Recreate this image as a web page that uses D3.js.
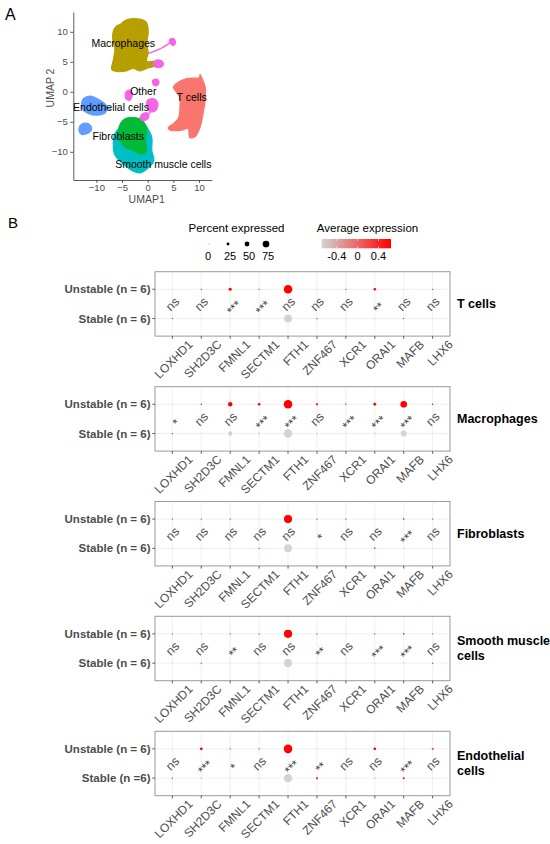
<!DOCTYPE html>
<html><head><meta charset="utf-8">
<script src="https://cdn.jsdelivr.net/npm/d3@7"></script>
<style>
html,body{margin:0;padding:0;background:#fff;}
svg{display:block;font-family:"Liberation Sans",Arial,Helvetica,sans-serif;}
</style></head>
<body>
<svg id="chart" width="550" height="844"></svg>
<script>
// ---------------- DATA ----------------
// Panel A: UMAP cluster outlines (UMAP units)
const umapXTicks = [-10, -5, 0, 5, 10];
const umapYTicks = [-10, -5, 0, 5, 10];
const clusterNames = ["T cells", "Macrophages", "Fibroblasts", "Smooth muscle cells", "Endothelial cells", "Other"];
const clusterColors = ["#F8766D", "#B79F00", "#00BA38", "#00BFC4", "#619CFF", "#F564E3"];
const macrophageShape = [[-5.4,11.2],[-4.1,12.0],[-1.5,12.1],[-0.2,11.5],[0.1,9.8],[-0.2,8.1],[0.1,6.5],[-0.2,5.1],[1.4,5.0],[1.2,4.3],[-0.2,3.9],[-1.5,3.5],[-2.8,3.9],[-4.1,3.5],[-6.0,3.4],[-7.0,3.7],[-6.7,5.3],[-6.4,7.0],[-6.8,8.7],[-6.7,10.1],[-6.0,11.0]];
const tcellShape = [[5.6,1.4],[7.6,2.2],[10.1,2.4],[10.2,2.9],[10.6,2.2],[11.2,0.8],[11.2,-1.4],[10.8,-3.6],[10.2,-5.9],[9.2,-7.5],[8.2,-7.6],[7.9,-6.1],[6.6,-6.4],[4.4,-6.4],[4.0,-6.0],[5.0,-5.3],[6.0,-4.4],[6.3,-2.5],[6.2,-0.8],[5.3,0.3],[5.0,0.8]];
const endoShapeA = [[-12.5,-1.1],[-11.2,-0.7],[-9.3,-1.4],[-8.0,-2.4],[-8.3,-3.5],[-9.9,-3.9],[-11.6,-3.6],[-12.7,-2.9],[-12.9,-1.9]];
const endoShapeB = [[-12.9,-5.4],[-11.6,-5.3],[-10.9,-6.1],[-11.4,-6.8],[-12.9,-7.1],[-13.4,-6.4]];
const smoothShape = [[-4.1,-4.5],[-1.5,-4.7],[-0.2,-5.9],[0.8,-7.6],[0.8,-9.8],[1.2,-11.5],[-0.2,-12.9],[-1.6,-13.5],[-3.1,-13.1],[-4.7,-12.1],[-6.4,-10.5],[-6.7,-8.4],[-6.4,-7.0],[-5.3,-5.8]];
const fibroShape = [[-4.4,-4.5],[-2.8,-4.3],[-1.2,-4.7],[-0.2,-6.1],[-0.5,-8.1],[-0.2,-9.8],[-1.2,-10.4],[-2.8,-9.8],[-4.4,-9.2],[-5.4,-8.1],[-5.7,-6.7],[-5.3,-5.3]];
const otherShapes = [
  [[4.2,8.6],[5.0,8.9],[5.4,8.4],[5.2,7.8],[4.6,7.9]],
  [[1.3,5.1],[2.3,5.3],[3.0,4.9],[2.8,4.2],[1.6,4.1],[1.1,4.5]],
  [[1.0,1.9],[1.9,2.1],[2.2,1.5],[1.7,1.0],[1.1,1.2]],
  [[-4.3,-0.1],[-3.4,0.3],[-3.0,-0.5],[-3.5,-1.4],[-4.2,-1.2]],
  [[0.0,-1.4],[1.3,-1.2],[2.0,-2.0],[1.6,-3.1],[0.6,-3.3],[-0.1,-2.5]],
  [[-1.2,-3.8],[-0.1,-3.5],[0.2,-4.3],[-0.8,-4.8],[-1.4,-4.5]]
];
const otherTails = [[[0.1,6.4],[2.5,7.2],[4.4,8.2]], [[0.8,-3.0],[0.2,-3.7]], [[-8.1,-2.6],[-7.0,-3.0]]];
const clusterLabels = [
  {text:"Macrophages", x:-4.76, y:8.07},
  {text:"Other", x:-0.86, y:0.0},
  {text:"T cells", x:8.58, y:-1.0},
  {text:"Endothelial cells", x:-7.15, y:-2.67},
  {text:"Fibroblasts", x:-5.73, y:-7.38},
  {text:"Smooth muscle cells", x:3.04, y:-12.05}
];

// Panel B: dot plots
const genes = ["LOXHD1","SH2D3C","FMNL1","SECTM1","FTH1","ZNF467","XCR1","ORAI1","MAFB","LHX6"];
const groups = ["Unstable","Stable"];
const cellTypes = ["T cells","Macrophages","Fibroblasts","Smooth muscle cells","Endothelial cells"];
const rowLabelsUnstable = ["Unstable (n = 6)","Unstable (n = 6)","Unstable (n = 6)","Unstable (n = 6)","Unstable (n = 6)"];
const rowLabelsStable = ["Stable (n = 6)","Stable (n = 6)","Stable (n = 6)","Stable (n = 6)","Stable (n =6)"];
const facetLabels = [["T cells"],["Macrophages"],["Fibroblasts"],["Smooth muscle","cells"],["Endothelial","cells"]];

const pctUnstable = [
  [1, 3, 28, 3, 99, 1, 3, 22, 2, 3],
  [1, 4, 45, 22, 100, 16, 4, 24, 75, 4],
  [3, 3, 3, 1, 94, 3, 3, 1, 8, 3],
  [3, 3, 3, 3, 95, 3, 2, 4, 8, 3],
  [1, 24, 3, 3, 100, 4, 3, 22, 4, 10]
];
const pctStable = [
  [3, 1, 8, 1, 90, 3, 1, 8, 3, 1],
  [4, 1, 44, 12, 97, 10, 2, 12, 66, 1],
  [1, 1, 1, 4, 92, 1, 1, 6, 5, 1],
  [2, 4, 1, 1, 93, 1, 2, 1, 4, 4],
  [3, 12, 1, 1, 97, 13, 3, 12, 12, 3]
];
const avgUnstable = [
  [-0.7, 0.7, 0.7, 0.7, 0.7, -0.7, 0.7, 0.7, -0.7, 0.7],
  [-0.7, 0.7, 0.7, 0.7, 0.7, 0.7, 0.7, 0.7, 0.7, 0.7],
  [0.7, 0.7, 0.7, -0.7, 0.7, 0.7, 0.7, -0.7, 0.7, 0.7],
  [0.7, -0.2, 0.7, 0.7, 0.7, 0.7, -0.7, 0.7, 0.7, 0.3],
  [-0.7, 0.7, 0.7, 0.7, 0.7, -0.7, -0.7, 0.7, -0.7, 0.7]
];
const avgStable = [
  [0.7, -0.7, -0.7, -0.7, -0.7, 0.7, -0.7, -0.7, 0.7, -0.7],
  [0.7, -0.7, -0.7, -0.7, -0.7, -0.7, -0.7, -0.7, -0.7, -0.7],
  [-0.7, -0.7, -0.7, 0.7, -0.7, -0.7, -0.7, 0.7, -0.7, -0.7],
  [-0.7, 0.5, -0.7, -0.7, -0.7, -0.7, -0.7, -0.7, -0.7, 0.5],
  [0.7, -0.7, -0.7, -0.7, -0.7, 0.7, -0.7, -0.7, 0.7, -0.7]
];
const signif = [
  ["ns","ns","***","***","ns","ns","ns","**","ns","ns"],
  ["*","ns","ns","***","***","ns","***","***","***","ns"],
  ["ns","ns","ns","ns","ns","*","ns","ns","***","ns"],
  ["ns","ns","**","ns","ns","**","ns","***","***","ns"],
  ["ns","***","*","ns","***","**","ns","ns","***","ns"]
];
const sizeLegendValues = [0, 25, 50, 75];
const colorLegendTicks = [-0.4, 0, 0.4];

// ---------------- DRAW ----------------
const svg = d3.select("#chart");
const FONT_GRAY = "#4d4d4d";

// ===== Panel A =====
svg.append("text").attr("x", 5).attr("y", 19.5).attr("font-size", 16).attr("fill", "#000").text("A");

const ux = d3.scaleLinear().domain([-14.5, 12.5]).range([73.3, 211.8]);
const uy = d3.scaleLinear().domain([-14.7, 13.3]).range([180, 12]);
const gA = svg.append("g");
const blob = d3.line().x(d => ux(d[0])).y(d => uy(d[1])).curve(d3.curveCatmullRomClosed.alpha(0.5));
const tail = d3.line().x(d => ux(d[0])).y(d => uy(d[1])).curve(d3.curveCatmullRom);

function drawBlob(shape, color) {
  gA.append("path").attr("d", blob(shape)).attr("fill", color).attr("stroke", color).attr("stroke-width", 1.2).attr("stroke-linejoin", "round");
}
otherTails.forEach((t, i) => gA.append("path").attr("d", tail(t)).attr("fill", "none")
  .attr("stroke", i === 2 ? clusterColors[4] : clusterColors[5]).attr("stroke-width", 1.4));
drawBlob(macrophageShape, clusterColors[1]);
drawBlob(tcellShape, clusterColors[0]);
drawBlob(endoShapeA, clusterColors[4]);
drawBlob(endoShapeB, clusterColors[4]);
drawBlob(smoothShape, clusterColors[3]);
drawBlob(fibroShape, clusterColors[2]);
otherShapes.forEach(s => drawBlob(s, clusterColors[5]));

clusterLabels.forEach(l => {
  gA.append("text").attr("x", ux(l.x)).attr("y", uy(l.y)).attr("dy", "0.35em")
    .attr("text-anchor", "middle").attr("font-size", 10.5).attr("fill", "#000").text(l.text);
});

// axes
const axA = svg.append("g").attr("transform", `translate(0,180)`)
  .call(d3.axisBottom(ux).tickValues(umapXTicks).tickSize(3).tickPadding(1).tickSizeOuter(0));
const ayA = svg.append("g").attr("transform", `translate(73.3,0)`)
  .call(d3.axisLeft(uy).tickValues(umapYTicks).tickSize(3).tickPadding(2.5).tickSizeOuter(0));
[axA, ayA].forEach(a => {
  a.select(".domain").attr("stroke", "#333").attr("stroke-width", 0.8);
  a.selectAll(".tick line").attr("stroke", "#333").attr("stroke-width", 0.8);
  a.selectAll(".tick text").attr("font-size", 9.5).attr("fill", FONT_GRAY).attr("font-family", "Liberation Sans, Arial, sans-serif");
});
svg.append("text").attr("x", 146.7).attr("y", 203).attr("text-anchor", "middle").attr("font-size", 10.5).attr("fill", FONT_GRAY).text("UMAP1");
svg.append("text").attr("transform", "translate(54,88) rotate(-90)").attr("text-anchor", "middle").attr("font-size", 10.5).attr("fill", FONT_GRAY).text("UMAP 2");

// ===== Panel B =====
svg.append("text").attr("x", 8).attr("y", 227.5).attr("font-size", 15).attr("fill", "#000").text("B");

const rScale = d3.scaleLinear().domain([0, 100]).range([0.5, 4.3]);
const cScale = d3.scaleLinear().domain([-0.69, 0.64]).range(["#d3d3d3", "#ff0000"]).clamp(true);

// legend: percent expressed
svg.append("text").attr("x", 236.5).attr("y", 232).attr("text-anchor", "middle").attr("font-size", 11.5).attr("fill", "#000").text("Percent expressed");
const legXs = d3.scalePoint().domain(sizeLegendValues).range([209, 266]);
sizeLegendValues.forEach(v => {
  svg.append("circle").attr("cx", legXs(v)).attr("cy", 244).attr("r", rScale(v)).attr("fill", v === 0 ? "#888" : "#000");
  svg.append("text").attr("x", legXs(v) + (v === 0 ? -1 : 2)).attr("y", 260).attr("text-anchor", "middle").attr("font-size", 11).attr("fill", "#000").text(v);
});

// legend: average expression colorbar
svg.append("text").attr("x", 367.5).attr("y", 232).attr("text-anchor", "middle").attr("font-size", 11.5).attr("fill", "#000").text("Average expression");
const barScale = d3.scaleLinear().domain([-0.69, 0.64]).range([321.7, 391]);
const defs = svg.append("defs");
const grad = defs.append("linearGradient").attr("id", "avgGrad").attr("x1", "0%").attr("x2", "100%");
grad.append("stop").attr("offset", "0%").attr("stop-color", cScale(-0.69));
grad.append("stop").attr("offset", "100%").attr("stop-color", cScale(0.64));
svg.append("rect").attr("x", barScale.range()[0]).attr("y", 239).attr("width", barScale.range()[1] - barScale.range()[0]).attr("height", 9.3).attr("fill", "url(#avgGrad)");
colorLegendTicks.forEach(t => {
  svg.append("line").attr("x1", barScale(t)).attr("x2", barScale(t)).attr("y1", 239).attr("y2", 241).attr("stroke", "#fff").attr("stroke-width", 0.6);
  svg.append("line").attr("x1", barScale(t)).attr("x2", barScale(t)).attr("y1", 246.3).attr("y2", 248.3).attr("stroke", "#fff").attr("stroke-width", 0.6);
  svg.append("text").attr("x", barScale(t)).attr("y", 260).attr("text-anchor", "middle").attr("font-size", 11).attr("fill", "#000").text(t === 0 ? "0" : t.toFixed(1));
});

// facets
const panelTops = [271.7, 386.7, 501.5, 616.3, 731.3];
const panelH = 64.4, panelL = 155, panelR = 450;

cellTypes.forEach((ct, p) => {
  const top = panelTops[p], bottom = top + panelH;
  const x = d3.scalePoint().domain(genes).range([panelL, panelR]).padding(0.6);
  const y = d3.scalePoint().domain(groups).range([top, bottom]).padding(0.6);
  const g = svg.append("g");

  // grid
  genes.forEach(gn => g.append("line").attr("x1", x(gn)).attr("x2", x(gn)).attr("y1", top).attr("y2", bottom).attr("stroke", "#e6e6e6").attr("stroke-width", 0.6));
  groups.forEach(gr => g.append("line").attr("x1", panelL).attr("x2", panelR).attr("y1", y(gr)).attr("y2", y(gr)).attr("stroke", "#e6e6e6").attr("stroke-width", 0.6));

  // dots
  const rows = [];
  genes.forEach((gn, i) => {
    rows.push({gene: gn, group: "Unstable", pct: pctUnstable[p][i], avg: avgUnstable[p][i]});
    rows.push({gene: gn, group: "Stable", pct: pctStable[p][i], avg: avgStable[p][i]});
  });
  g.selectAll("circle.dot").data(rows).join("circle").attr("class", "dot")
    .attr("cx", d => x(d.gene)).attr("cy", d => y(d.group))
    .attr("r", d => rScale(d.pct)).attr("fill", d => cScale(d.avg));

  // significance labels
  const midY = (y("Unstable") + y("Stable")) / 2;
  genes.forEach((gn, i) => {
    const s = signif[p][i];
    const isStar = s !== "ns";
    g.append("text")
      .attr("transform", `translate(${x(gn)},${midY}) rotate(-45)`)
      .attr("text-anchor", "middle")
      .attr("dy", isStar ? "0.78em" : "0.35em")
      .attr("font-size", 12.5)
      .attr("fill", isStar ? "#444" : "#555")
      .text(s);
  });

  // border
  g.append("rect").attr("x", panelL).attr("y", top).attr("width", panelR - panelL).attr("height", panelH)
    .attr("fill", "none").attr("stroke", "#9a9a9a").attr("stroke-width", 1);

  // y axis ticks & labels
  const yLab = [rowLabelsUnstable[p], rowLabelsStable[p]];
  groups.forEach((gr, k) => {
    g.append("line").attr("x1", panelL - 2.7).attr("x2", panelL).attr("y1", y(gr)).attr("y2", y(gr)).attr("stroke", "#333").attr("stroke-width", 0.8);
    g.append("text").attr("x", panelL - 4.5).attr("y", y(gr)).attr("dy", "0.35em").attr("text-anchor", "end")
      .attr("font-size", 11.5).attr("font-weight", "bold").attr("fill", FONT_GRAY).text(yLab[k]);
  });

  // x axis ticks & labels
  genes.forEach(gn => {
    g.append("line").attr("x1", x(gn)).attr("x2", x(gn)).attr("y1", bottom).attr("y2", bottom + 2.7).attr("stroke", "#333").attr("stroke-width", 0.8);
    g.append("text").attr("transform", `translate(${x(gn) + 15},${bottom + 3}) rotate(-45)`)
      .attr("text-anchor", "end").attr("dy", "0.72em").attr("font-size", 12).attr("fill", FONT_GRAY).text(gn);
  });

  // facet label
  const lines = facetLabels[p];
  const midPanel = top + panelH / 2;
  lines.forEach((ln, k) => {
    g.append("text").attr("x", 457).attr("y", midPanel + (k - (lines.length - 1) / 2) * 15).attr("dy", "0.35em")
      .attr("font-size", 12.5).attr("font-weight", "bold").attr("fill", "#000").text(ln);
  });
});
</script>
</body></html>
